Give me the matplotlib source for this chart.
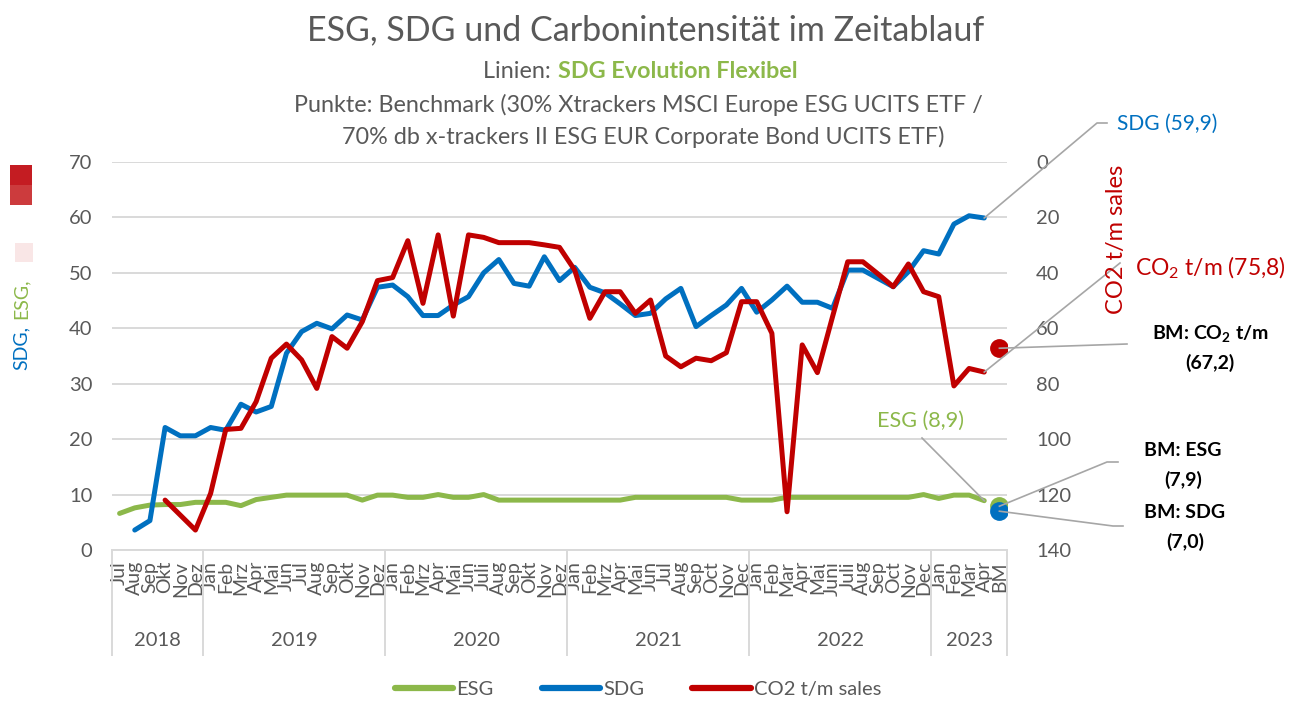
'''
ESG, SDG und Carbonintensitaet im Zeitablauf
'''
import numpy as np
import matplotlib
matplotlib.use('Agg')
import matplotlib.pyplot as plt
from matplotlib.lines import Line2D
from matplotlib.patches import Rectangle

nan = np.nan

# Beschriftung der Monate (letzte Kategorie = Benchmark)
month_labels = ['Jul', 'Aug', 'Sep', 'Okt', 'Nov', 'Dez',
                'Jan', 'Feb', 'Mrz', 'Apr', 'Mai', 'Jun', 'Jul', 'Aug', 'Sep', 'Okt', 'Nov', 'Dez',
                'Jan', 'Feb', 'Mrz', 'Apr', 'Mai', 'Jun', 'Juli', 'Aug', 'Sep', 'Okt', 'Nov', 'Dez',
                'Jan', 'Feb', 'Mrz', 'Apr', 'Mai', 'Jun', 'Jul', 'Aug', 'Sep', 'Oct', 'Nov', 'Dec',
                'Jan', 'Feb', 'Mar', 'Apr', 'Mai', 'Juni', 'Juli', 'Aug', 'Sep', 'Oct', 'Nov', 'Dec',
                'Jan', 'Feb', 'Mar', 'Apr', 'BM']
years = ['2018', '2019', '2020', '2021', '2022', '2023']
months_per_year = [6, 12, 12, 12, 12, 5]

# Fondswerte pro Monat (Jul 2018 - Apr 2023)
esg = [6.6, 7.6, 8.1, 8.2, 8.2, 8.6,
       8.6, 8.6, 8.0, 9.1, 9.5, 9.9, 9.9, 9.9, 9.9, 9.9, 9.0, 9.9,
       9.9, 9.5, 9.5, 10.0, 9.5, 9.5, 10.0, 9.0, 9.0, 9.0, 9.0, 9.0,
       9.0, 9.0, 9.0, 9.0, 9.5, 9.5, 9.5, 9.5, 9.5, 9.5, 9.5, 9.0,
       9.0, 9.0, 9.5, 9.5, 9.5, 9.5, 9.5, 9.5, 9.5, 9.5, 9.5, 10.0,
       9.3, 9.9, 9.9, 8.9]
sdg = [nan, 3.6, 5.3, 22.1, 20.6, 20.6,
       22.1, 21.6, 26.3, 24.9, 25.9, 35.5, 39.4, 40.9, 39.9, 42.4, 41.5, 47.4,
       47.8, 45.7, 42.3, 42.3, 44.2, 45.7, 50.0, 52.4, 48.1, 47.6, 52.9, 48.6,
       51.0, 47.4, 46.4, 44.4, 42.3, 42.7, 45.3, 47.2, 40.3, 42.3, 44.2, 47.2,
       42.9, 45.1, 47.6, 44.7, 44.7, 43.6, 50.5, 50.5, 49.0, 47.5, 50.2, 54.0,
       53.4, 58.8, 60.3, 59.9]
co2 = [nan, nan, nan, 122.0, 127.4, 132.8,
       119.6, 96.5, 96.1, 86.5, 70.8, 65.7, 71.4, 81.7, 63.0, 67.2, 57.6, 42.8,
       41.7, 28.4, 51.0, 26.3, 55.6, 26.3, 27.2, 29.1, 29.1, 29.1, 29.9, 30.8,
       39.0, 56.4, 46.8, 46.8, 54.6, 49.8, 70.0, 73.9, 70.8, 71.7, 68.8, 50.4,
       50.4, 61.8, 126.2, 66.0, 76.0, 55.8, 36.0, 36.0, 40.4, 45.0, 36.8, 46.8,
       48.6, 80.8, 74.5, 75.8]

# Benchmark-Punkte
bm_esg = 7.9
bm_sdg = 7.0
bm_co2 = 67.2

GREEN = '#8cb84a'
BLUE = '#0070c0'
RED = '#c00000'
GREY = '#595959'
LEADER = '#a6a6a6'

W, H = 1291, 704


def fxy(px, py):
    # Pixel im Referenzbild -> figure fraction
    return px / W, 1 - py / H


def leader(fig, ax, point, pixels):
    # Linie vom Datenpunkt zur Beschriftung
    disp = ax.transData.transform(point)
    start = fig.transFigure.inverted().transform(disp)
    xs = [start[0]] + [fxy(px, py)[0] for px, py in pixels]
    ys = [start[1]] + [fxy(px, py)[1] for px, py in pixels]
    fig.add_artist(Line2D(xs, ys, transform=fig.transFigure, color=LEADER, lw=1.2))


def create_graph():
    plt.rcParams['font.family'] = ['Lato', 'DejaVu Sans']
    plt.rcParams['mathtext.default'] = 'regular'

    fig = plt.figure(figsize=(W / 100, H / 100), dpi=100)
    ax = fig.add_axes([112 / W, 1 - 550 / H, 895 / W, 388 / H])
    ax2 = ax.twinx()

    n = len(esg)
    x = np.arange(n)
    bm_x = n

    ax.plot(x, esg, color=GREEN, lw=3.6, solid_joinstyle='round', solid_capstyle='round', zorder=3)
    ax.plot(x, sdg, color=BLUE, lw=3.6, solid_joinstyle='round', solid_capstyle='round', zorder=4)
    ax2.plot(x, co2, color=RED, lw=3.6, solid_joinstyle='round', solid_capstyle='round', zorder=3)
    ax.plot(bm_x, bm_esg, 'o', color=GREEN, ms=12.5, zorder=5)
    ax.plot(bm_x, bm_sdg, 'o', color=BLUE, ms=12.5, zorder=6)
    ax2.plot(bm_x, bm_co2, 'o', color=RED, ms=12.5, zorder=5)

    ax.set_xlim(-0.5, len(month_labels) - 0.5)
    ax.set_ylim(0, 70)
    ax.set_yticks(range(0, 71, 10))
    ax2.set_ylim(140, 0)
    ax2.set_yticks(range(0, 141, 20))

    for a in (ax, ax2):
        for s in a.spines.values():
            s.set_visible(False)
        a.tick_params(axis='y', length=0, labelsize=14.5, labelcolor=GREY)
    ax.tick_params(axis='y', pad=14)
    ax2.tick_params(axis='y', pad=21)
    ax.spines['bottom'].set_visible(True)
    ax.spines['bottom'].set_color('#d9d9d9')
    ax.spines['bottom'].set_linewidth(1.4)
    ax.yaxis.grid(True, color='#d9d9d9', lw=1.4)
    ax.set_axisbelow(True)

    ax.set_xticks(range(len(month_labels)))
    ax.set_xticklabels(month_labels, rotation=90, fontsize=14, color=GREY)
    ax.tick_params(axis='x', length=0, pad=8)

    # Jahresgruppen unter den Monaten
    trans = ax.get_xaxis_transform()
    edges = np.concatenate([[0], np.cumsum(months_per_year)]) - 0.5
    for e in edges:
        ax.plot([e, e], [0, -0.27], color='#d9d9d9', lw=1.4, transform=trans, clip_on=False)
    for i, yr in enumerate(years):
        ax.text((edges[i] + edges[i + 1]) / 2, -0.232, yr, transform=trans,
                ha='center', va='center', fontsize=14.5, color=GREY)

    # Titel und Untertitel
    fig.text(*fxy(646, 30), 'ESG, SDG und Carbonintensität im Zeitablauf',
             ha='center', va='center', fontsize=24.5, color=GREY)
    fig.text(*fxy(557, 72), 'Linien: ', ha='right', va='center', fontsize=16.8, color=GREY)
    fig.text(*fxy(558, 72), 'SDG Evolution Flexibel', ha='left', va='center',
             fontsize=16.8, color=GREEN, fontweight='bold')
    fig.text(*fxy(638, 105), 'Punkte: Benchmark (30% Xtrackers MSCI Europe ESG UCITS ETF /',
             ha='center', va='center', fontsize=16.8, color=GREY)
    fig.text(*fxy(643, 137), '70% db x-trackers II ESG EUR Corporate Bond UCITS ETF)',
             ha='center', va='center', fontsize=16.8, color=GREY)

    # Achsentitel links (mehrfarbig) und rechts
    fig.text(*fxy(21, 348), 'SDG,', rotation=90, ha='center', va='center', fontsize=14, color=BLUE)
    fig.text(*fxy(21, 299), 'ESG,', rotation=90, ha='center', va='center', fontsize=14, color=GREEN)
    fig.add_artist(Rectangle(fxy(15, 262), 18 / W, 19 / H, transform=fig.transFigure,
                             color='#f9e6e6', lw=0))
    fig.add_artist(Rectangle(fxy(10, 185), 22 / W, 20 / H, transform=fig.transFigure,
                             color='#c41c22', lw=0))
    fig.add_artist(Rectangle(fxy(10, 205), 22 / W, 20 / H, transform=fig.transFigure,
                             color='#cc3b3d', lw=0))
    fig.text(*fxy(1117, 239), 'CO2 t/m sales', rotation=90, ha='center', va='center',
             fontsize=17, color=RED)

    # Datenbeschriftungen mit Fuehrungslinien
    last = n - 1
    leader(fig, ax, (last, sdg[-1]), [(1097, 123), (1107, 123)])
    fig.text(*fxy(1117, 124), 'SDG (59,9)', ha='left', va='center', fontsize=15, color=BLUE)

    leader(fig, ax2, (last, co2[-1]), [(1120, 263)])
    fig.text(*fxy(1135, 268), r'CO$_2$ t/m (75,8)', ha='left', va='center', fontsize=16.5, color=RED)

    leader(fig, ax2, (bm_x, bm_co2), [(1127, 344)])
    fig.text(*fxy(1210, 333), r'BM: CO$_2$ t/m', ha='center', va='center', fontsize=14,
             fontweight='bold', color='black')
    fig.text(*fxy(1210, 363), '(67,2)', ha='center', va='center', fontsize=14,
             fontweight='bold', color='black')

    leader(fig, ax, (last, esg[-1]), [(922, 438)])
    fig.text(*fxy(921, 421), 'ESG (8,9)', ha='center', va='center', fontsize=15.6, color=GREEN)

    leader(fig, ax, (bm_x, bm_esg), [(1107, 462), (1118, 462)])
    fig.text(*fxy(1183, 450), 'BM: ESG', ha='center', va='center', fontsize=14,
             fontweight='bold', color='black')
    fig.text(*fxy(1183, 480), '(7,9)', ha='center', va='center', fontsize=14,
             fontweight='bold', color='black')

    leader(fig, ax, (bm_x, bm_sdg), [(1113, 526), (1123, 526)])
    fig.text(*fxy(1185, 512), 'BM: SDG', ha='center', va='center', fontsize=14,
             fontweight='bold', color='black')
    fig.text(*fxy(1185, 542), '(7,0)', ha='center', va='center', fontsize=14,
             fontweight='bold', color='black')

    # Legende unten
    handles = [Line2D([], [], color=GREEN, lw=4.5, solid_capstyle='round'),
               Line2D([], [], color=BLUE, lw=4.5, solid_capstyle='round'),
               Line2D([], [], color=RED, lw=4.5, solid_capstyle='round')]
    leg = fig.legend(handles, ['ESG', 'SDG', 'CO2 t/m sales'], loc='center',
                     bbox_to_anchor=fxy(638, 689), ncol=3, frameon=False, fontsize=14.5,
                     handlelength=2.9, handletextpad=0.15, columnspacing=2.4)
    for t in leg.get_texts():
        t.set_color(GREY)

    fig.savefig('out.png', dpi=100)


if __name__ == '__main__':
    create_graph()
